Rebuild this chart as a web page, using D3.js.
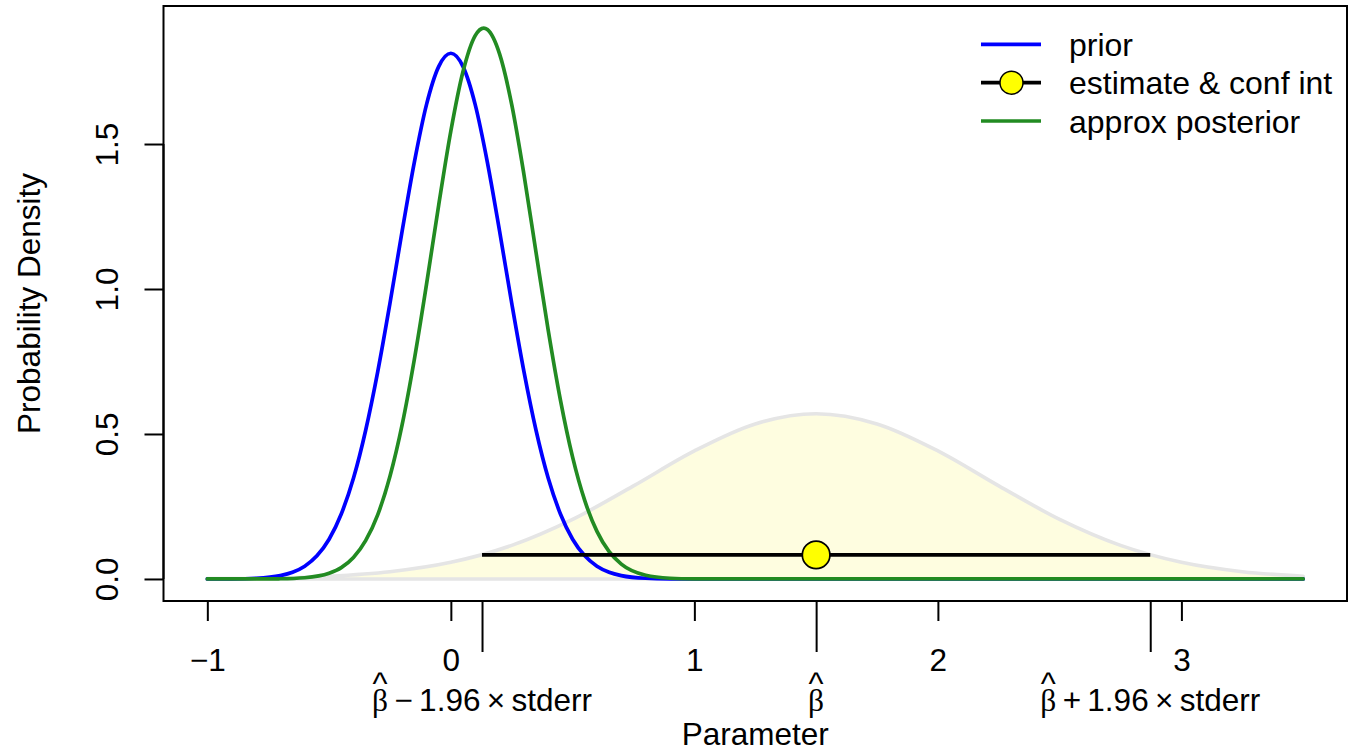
<!DOCTYPE html>
<html>
<head>
<meta charset="utf-8">
<script src="https://cdn.jsdelivr.net/npm/d3@7"></script>
<style>
  html, body { margin: 0; padding: 0; background: #fff; }
  svg { display: block; }
  text { font-family: "Liberation Sans", Arial, Helvetica, sans-serif; fill: #000; }
</style>
</head>
<body>
<svg id="chart" width="1361" height="751"></svg>
<script>
// ---------- data ----------
const xTicks = [-1, 0, 1, 2, 3];
const xTickLabels = ["\u22121", "0", "1", "2", "3"];
const yTicks = [0, 0.5, 1.0, 1.5];
const yTickLabels = ["0.0", "0.5", "1.0", "1.5"];

const priorX = [-1.0, -0.9, -0.8, -0.7, -0.65, -0.6, -0.55, -0.5, -0.45, -0.4, -0.35, -0.3, -0.25, -0.2, -0.15, -0.1, -0.05, 0,
                0.05, 0.1, 0.15, 0.2, 0.25, 0.3, 0.35, 0.4, 0.45, 0.5, 0.55, 0.6, 0.65, 0.7, 0.8, 0.9, 1.0, 1.5, 2.0, 2.5, 3.0, 3.5];
const priorY = [0.0001, 0.0004, 0.0024, 0.0115, 0.0231, 0.044, 0.0797, 0.137, 0.224, 0.347, 0.512, 0.716, 0.951, 1.200, 1.437, 1.636, 1.767, 1.813,
                1.767, 1.636, 1.437, 1.200, 0.951, 0.716, 0.512, 0.347, 0.224, 0.137, 0.0797, 0.044, 0.0231, 0.0115, 0.0024, 0.0004, 0.0001, 0, 0, 0, 0, 0];

const postX = [-1.0, -0.8, -0.7, -0.6, -0.5, -0.45, -0.4, -0.35, -0.3, -0.25, -0.2, -0.15, -0.1, -0.05, 0, 0.05, 0.1, 0.135, 0.15,
               0.2, 0.25, 0.3, 0.35, 0.4, 0.45, 0.5, 0.55, 0.6, 0.65, 0.7, 0.8, 0.9, 1.0, 1.1, 1.5, 2.0, 2.5, 3.0, 3.5];
const postY = [0, 0.0001, 0.0007, 0.0042, 0.0196, 0.039, 0.074, 0.132, 0.222, 0.354, 0.532, 0.757, 1.016, 1.289, 1.545, 1.750, 1.874, 1.900, 1.895,
               1.811, 1.636, 1.396, 1.125, 0.857, 0.617, 0.420, 0.270, 0.164, 0.094, 0.051, 0.0126, 0.0025, 0.0004, 0.0001, 0, 0, 0, 0, 0];

const likeX = [-1.0, -0.75, -0.5, -0.25, 0, 0.25, 0.5, 0.75, 1.0, 1.25, 1.5, 1.75, 2.0, 2.25, 2.5, 2.75, 3.0, 3.25, 3.5];
const likeY = [0.0010, 0.0033, 0.0096, 0.025, 0.0574, 0.1157, 0.2054, 0.321, 0.4416, 0.5347, 0.5699, 0.5347, 0.4416, 0.321, 0.2054, 0.1157, 0.0574, 0.025, 0.0096];

const estimate = [1.5];
const ciBounds = [0.128, 2.872];
const ciLevel = [0.083];

const betaTicks = [0.128, 1.5, 2.872];
const betaSuffix = ["\u2009\u2212\u20091.96\u2009\u00d7\u2009stderr", "", "\u2009+\u20091.96\u2009\u00d7\u2009stderr"];

const legendLabels = ["prior", "estimate & conf int", "approx posterior"];
const legendColors = ["#0000ff", "#000000", "#228b22"];

// ---------- layout ----------
const svg = d3.select("#chart");
const plot = { left: 163.5, right: 1347, top: 6, bottom: 601 };
const FS = 31.5;
const SERIF = "'Liberation Serif', 'Times New Roman', serif";
const SANS = "'Liberation Sans', Arial, sans-serif";

const x = d3.scaleLinear().domain([-1.18, 3.68]).range([plot.left, plot.right]);
const y = d3.scaleLinear().domain([-0.076, 1.976]).range([plot.bottom, plot.top]);

const zip = (xs, ys) => xs.map((v, i) => [v, ys[i]]);

// likelihood polygon
const likePts = zip(likeX, likeY);
const area = d3.area().x(d => x(d[0])).y0(y(0)).y1(d => y(d[1])).curve(d3.curveMonotoneX);
svg.append("path")
  .attr("d", area(likePts))
  .attr("fill", "#fefde0")
  .attr("stroke", "#e5e5e5")
  .attr("stroke-width", 3.6)
  .attr("stroke-linejoin", "round");

const line = d3.line().x(d => x(d[0])).y(d => y(d[1])).curve(d3.curveMonotoneX);

svg.append("path")
  .attr("d", line(zip(priorX, priorY)))
  .attr("fill", "none").attr("stroke", legendColors[0]).attr("stroke-width", 3.7)
  .attr("stroke-linecap", "round").attr("stroke-linejoin", "round");

svg.append("path")
  .attr("d", line(zip(postX, postY)))
  .attr("fill", "none").attr("stroke", legendColors[2]).attr("stroke-width", 3.7)
  .attr("stroke-linecap", "round").attr("stroke-linejoin", "round");

// confidence interval and estimate
svg.append("line")
  .attr("x1", x(ciBounds[0])).attr("x2", x(ciBounds[1]))
  .attr("y1", y(ciLevel[0])).attr("y2", y(ciLevel[0]))
  .attr("stroke", "#000").attr("stroke-width", 3.8);
svg.selectAll("circle.est").data(estimate).join("circle")
  .attr("class", "est")
  .attr("cx", d => x(d)).attr("cy", y(ciLevel[0])).attr("r", 13.8)
  .attr("fill", "#ffff00").attr("stroke", "#000").attr("stroke-width", 1.7);

// box
svg.append("rect")
  .attr("x", plot.left).attr("y", plot.top)
  .attr("width", plot.right - plot.left).attr("height", plot.bottom - plot.top)
  .attr("fill", "none").attr("stroke", "#000").attr("stroke-width", 2);

// x axis (regular ticks)
const xAxis = svg.append("g").attr("transform", `translate(0,${plot.bottom})`)
  .call(d3.axisBottom(x).tickValues(xTicks).tickSize(20).tickFormat((d, i) => xTickLabels[i]));
xAxis.select(".domain").attr("d", `M${x(xTicks[0])},0H${x(xTicks[xTicks.length - 1])}`).attr("stroke-width", 2);
xAxis.selectAll(".tick line").attr("stroke-width", 2);
xAxis.selectAll(".tick text").attr("y", 70).attr("dy", 0)
  .style("font-size", FS + "px").style("font-family", SANS);

// x axis (beta ticks)
const bAxis = svg.append("g").attr("transform", `translate(0,${plot.bottom})`)
  .call(d3.axisBottom(x).tickValues(betaTicks).tickSize(51).tickFormat(""));
bAxis.select(".domain").attr("d", `M${x(betaTicks[0])},0H${x(betaTicks[betaTicks.length - 1])}`).attr("stroke-width", 2);
bAxis.selectAll(".tick line").attr("stroke-width", 2);
bAxis.selectAll(".tick text").remove();

// helper to measure text advance
function measure(str, font, size) {
  const t = svg.append("text").style("font-family", font).style("font-size", size + "px").text(str);
  const w = t.node().getComputedTextLength();
  t.remove();
  return w;
}
const HAT_SIZE = 32, HAT_RISE = 17;
const wBeta = measure("\u03b2", SERIF, FS);
const wHat = measure("^", SANS, HAT_SIZE);

betaTicks.forEach((t, i) => {
  const wSuf = betaSuffix[i] ? measure(betaSuffix[i], SANS, FS) : 0;
  const total = wBeta + wSuf;
  const txt = svg.append("text")
    .attr("x", x(t) - total / 2).attr("y", 711)
    .attr("text-anchor", "start")
    .style("font-size", FS + "px");
  txt.append("tspan").style("font-family", SERIF).text("\u03b2");
  txt.append("tspan")
    .attr("dx", -(wBeta / 2 + wHat / 2)).attr("dy", -HAT_RISE)
    .style("font-size", HAT_SIZE + "px").style("font-family", SANS)
    .text("^");
  if (betaSuffix[i]) {
    txt.append("tspan")
      .attr("dx", wBeta / 2 - wHat / 2).attr("dy", HAT_RISE)
      .style("font-family", SANS)
      .text(betaSuffix[i]);
  }
});

// y axis
const yAxis = svg.append("g").attr("transform", `translate(${plot.left},0)`)
  .call(d3.axisLeft(y).tickValues(yTicks).tickSize(19).tickFormat((d, i) => yTickLabels[i]));
yAxis.select(".domain").attr("d", `M0,${y(yTicks[0])}V${y(yTicks[yTicks.length - 1])}`).attr("stroke-width", 2);
yAxis.selectAll(".tick line").attr("stroke-width", 2);
yAxis.selectAll(".tick text")
  .attr("x", null).attr("dy", null).attr("y", 0)
  .attr("text-anchor", "middle")
  .attr("transform", "translate(-46,0) rotate(-90)")
  .style("font-size", FS + "px").style("font-family", SANS);

// axis titles
svg.append("text")
  .attr("x", (plot.left + plot.right) / 2).attr("y", 745)
  .attr("text-anchor", "middle").style("font-size", FS + "px")
  .text("Parameter");
svg.append("text")
  .attr("transform", `translate(40,${(plot.top + plot.bottom) / 2}) rotate(-90)`)
  .attr("text-anchor", "middle").style("font-size", FS + "px")
  .text("Probability Density");

// legend
const legY = [44.3, 82.7, 121];
const leg = svg.append("g");
legendLabels.forEach((lab, i) => {
  leg.append("line")
    .attr("x1", 981).attr("x2", 1041).attr("y1", legY[i]).attr("y2", legY[i])
    .attr("stroke", legendColors[i]).attr("stroke-width", 3.7);
  if (i === 1) {
    leg.append("circle").attr("cx", 1011.5).attr("cy", legY[i]).attr("r", 11.5)
      .attr("fill", "#ffff00").attr("stroke", "#000").attr("stroke-width", 1.5);
  }
  leg.append("text")
    .attr("x", 1069).attr("y", legY[i] + 11.5)
    .style("font-size", "32px")
    .text(lab);
});
</script>
</body>
</html>
